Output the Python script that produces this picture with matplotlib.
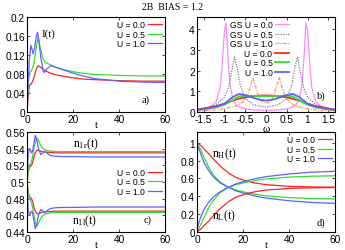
import matplotlib
matplotlib.use("Agg")
import matplotlib.pyplot as plt
from matplotlib.ticker import FormatStrFormatter

plt.rcParams['font.family'] = ['Liberation Sans', 'DejaVu Sans']
plt.rcParams['axes.unicode_minus'] = False
plt.rcParams['mathtext.fontset'] = 'custom'
plt.rcParams['mathtext.rm'] = 'Liberation Serif'
plt.rcParams['mathtext.it'] = 'Liberation Serif'

SERIF = ['Liberation Serif', 'DejaVu Serif']

labels = ["U = 0.0", "U = 0.5", "U = 1.0"]
gs_labels = ["GS U = 0.0", "GS U = 0.5", "GS U = 1.0"]
colors = ["#ff2020", "#30e030", "#6060ff"]
gs_colors = ["#ff88ff", "#808080", "#ff9955"]

# a) current I(t)
t_a_red = [0, 0.5, 1, 2, 3, 4, 4.8, 6, 7, 8, 10, 12, 15, 20, 25, 30, 40, 50, 60]
I_red = [0, 0.03, 0.055, 0.06, 0.072, 0.09, 0.0975, 0.094, 0.09, 0.087, 0.082, 0.079, 0.076, 0.072, 0.069, 0.068, 0.066, 0.065, 0.065]
t_a_green = [0, 0.5, 1, 2, 3, 4, 4.8, 6, 7, 8, 9.5, 12, 15, 20, 25, 30, 40, 50, 60]
I_green = [0, 0.06, 0.08, 0.088, 0.1, 0.135, 0.157, 0.13, 0.112, 0.104, 0.101, 0.095, 0.09, 0.085, 0.081, 0.079, 0.077, 0.076, 0.076]
t_a_blue = [0, 0.5, 1, 1.7, 2.2, 2.7, 3.3, 4, 4.6, 5.2, 6, 7, 7.5, 8.5, 10.3, 12, 15, 20, 25, 30, 40, 50, 60]
I_blue = [0, 0.06, 0.11, 0.14, 0.132, 0.122, 0.135, 0.158, 0.168, 0.15, 0.115, 0.087, 0.083, 0.09, 0.0975, 0.095, 0.09, 0.082, 0.075, 0.07, 0.065, 0.063, 0.062]

# b) spectral functions
w_gs0 = [-1.66, -1.5, -1.3, -1.2, -1.1, -1.05, -1.0, -0.96, -0.92, -0.87, -0.8, -0.7, -0.5, -0.3, 0.0,
         0.3, 0.5, 0.7, 0.8, 0.87, 0.92, 0.96, 1.0, 1.05, 1.1, 1.2, 1.3, 1.5, 1.66]
A_gs0 = [0.1, 0.15, 0.3, 0.5, 1.2, 2.4, 3.9, 4.3, 2.8, 1.4, 0.6, 0.3, 0.15, 0.1, 0.08,
         0.1, 0.15, 0.3, 0.6, 1.4, 2.8, 4.3, 3.9, 2.4, 1.2, 0.5, 0.3, 0.15, 0.1]
w_gs5 = [-1.66, -1.4, -1.2, -1.0, -0.9, -0.82, -0.76, -0.7, -0.62, -0.5, -0.3, 0.0,
         0.3, 0.5, 0.62, 0.7, 0.76, 0.82, 0.9, 1.0, 1.2, 1.4, 1.66]
A_gs5 = [0.1, 0.2, 0.35, 0.7, 1.2, 2.0, 2.65, 2.2, 1.3, 0.65, 0.35, 0.24,
         0.35, 0.65, 1.3, 2.2, 2.65, 2.0, 1.2, 0.7, 0.35, 0.2, 0.1]
w_gs10 = [-1.66, -1.2, -0.9, -0.7, -0.55, -0.45, -0.38, -0.32, -0.26, -0.18, -0.1, 0.0,
          0.1, 0.18, 0.26, 0.32, 0.38, 0.45, 0.55, 0.7, 0.9, 1.2, 1.66]
A_gs10 = [0.05, 0.1, 0.2, 0.3, 0.5, 0.8, 1.2, 1.67, 1.3, 0.75, 0.5, 0.42,
          0.5, 0.75, 1.3, 1.67, 1.2, 0.8, 0.5, 0.3, 0.2, 0.1, 0.05]
w_u = [-1.66, -1.5, -1.2, -1.0, -0.8, -0.65, -0.5, -0.3, -0.15, 0.0, 0.15, 0.3, 0.5, 0.65, 0.8, 1.0, 1.2, 1.5, 1.66]
A_u0 = [0.13, 0.17, 0.28, 0.4, 0.55, 0.64, 0.71, 0.76, 0.79, 0.8, 0.79, 0.76, 0.71, 0.64, 0.55, 0.4, 0.28, 0.17, 0.13]
A_u5 = [0.1, 0.13, 0.22, 0.35, 0.57, 0.75, 0.79, 0.78, 0.77, 0.77, 0.77, 0.78, 0.79, 0.75, 0.57, 0.35, 0.22, 0.13, 0.1]
A_u10 = [0.1, 0.15, 0.25, 0.4, 0.72, 0.87, 0.82, 0.68, 0.59, 0.55, 0.59, 0.68, 0.82, 0.87, 0.72, 0.4, 0.25, 0.15, 0.1]

# c) occupations n_1r / n_1l
t_c = [0, 0.5, 1, 1.5, 2, 2.5, 3, 3.6, 4.3, 5, 6, 7, 7.5, 8.5, 10, 12, 15, 20, 30, 40, 50, 60]
n1r_red = [0.5, 0.512, 0.517, 0.519, 0.52, 0.524, 0.53, 0.535, 0.538, 0.538, 0.537, 0.536, 0.536, 0.5358, 0.5355, 0.535, 0.535, 0.535, 0.535, 0.535, 0.535, 0.535]
n1r_green = [0.5, 0.512, 0.52, 0.522, 0.525, 0.532, 0.54, 0.548, 0.553, 0.55, 0.543, 0.54, 0.539, 0.538, 0.537, 0.5367, 0.5365, 0.5365, 0.5365, 0.5365, 0.5365, 0.5365]
n1r_blue = [0.5, 0.532, 0.54, 0.538, 0.535, 0.538, 0.546, 0.556, 0.55, 0.54, 0.533, 0.535, 0.537, 0.535, 0.532, 0.531, 0.5305, 0.5305, 0.530, 0.530, 0.530, 0.530]
n1l_red = [0.5, 0.488, 0.483, 0.481, 0.48, 0.476, 0.47, 0.465, 0.462, 0.462, 0.463, 0.464, 0.464, 0.4642, 0.4645, 0.465, 0.465, 0.465, 0.465, 0.465, 0.465, 0.465]
n1l_green = [0.5, 0.488, 0.48, 0.478, 0.475, 0.468, 0.46, 0.452, 0.447, 0.45, 0.457, 0.46, 0.461, 0.462, 0.463, 0.4633, 0.4635, 0.4635, 0.4635, 0.4635, 0.4635, 0.4635]
n1l_blue = [0.5, 0.468, 0.46, 0.462, 0.465, 0.462, 0.454, 0.444, 0.45, 0.46, 0.467, 0.465, 0.463, 0.465, 0.468, 0.469, 0.4695, 0.4695, 0.470, 0.470, 0.470, 0.470]

# d) occupations n_H / n_L
t_d = [0, 1, 2, 3, 5, 7, 10, 13.7, 17, 21, 25, 30, 40, 50, 60]
nH_red = [1.0, 0.98, 0.96, 0.93, 0.88, 0.82, 0.74, 0.66, 0.61, 0.575, 0.55, 0.53, 0.512, 0.505, 0.502]
nL_red = [0.0, 0.02, 0.04, 0.07, 0.12, 0.18, 0.26, 0.34, 0.39, 0.425, 0.45, 0.47, 0.488, 0.495, 0.498]
nH_green = [0.98, 0.95, 0.9, 0.84, 0.73, 0.64, 0.56, 0.5, 0.47, 0.445, 0.425, 0.405, 0.385, 0.375, 0.37]
nL_green = [0.01, 0.05, 0.1, 0.16, 0.27, 0.35, 0.44, 0.5, 0.53, 0.555, 0.575, 0.595, 0.615, 0.625, 0.63]
nH_blue = [0.97, 0.92, 0.85, 0.78, 0.69, 0.62, 0.55, 0.5, 0.46, 0.43, 0.405, 0.38, 0.35, 0.33, 0.32]
nL_blue = [0.03, 0.12, 0.19, 0.25, 0.33, 0.39, 0.45, 0.5, 0.54, 0.57, 0.595, 0.62, 0.65, 0.67, 0.68]

W, H = 345, 251
fig = plt.figure(figsize=(W / 100, H / 100), dpi=100)


def box(x0, y0, x1, y1):
    return [x0 / W, 1 - y1 / H, (x1 - x0) / W, (y1 - y0) / H]


ax_a = fig.add_axes(box(27, 18, 165, 113))
ax_b = fig.add_axes(box(197, 18, 335, 113))
ax_c = fig.add_axes(box(27, 133, 165, 233))
ax_d = fig.add_axes(box(197, 133, 335, 233))

lw = 0.9
tick_fs = 7.3
leg_kw = dict(frameon=False, markerfirst=False, fontsize=6.2, handlelength=1.6,
              handletextpad=0.3, labelspacing=0.05, borderpad=0.1, borderaxespad=0.3)

for ax in (ax_a, ax_b, ax_c, ax_d):
    ax.set_facecolor('none')
    ax.tick_params(direction='in', length=2.5, width=0.5, labelsize=tick_fs, pad=1.5,
                   top=True, right=True)
    for s in ax.spines.values():
        s.set_linewidth(0.8)
    ax.xaxis.set_major_formatter(FormatStrFormatter('%g'))
    ax.yaxis.set_major_formatter(FormatStrFormatter('%g'))

# a)
ax_a.plot(t_a_red, I_red, color=colors[0], lw=lw, label=labels[0])
ax_a.plot(t_a_green, I_green, color=colors[1], lw=lw, label=labels[1])
ax_a.plot(t_a_blue, I_blue, color=colors[2], lw=lw, label=labels[2])
ax_a.set_xlim(0, 60)
ax_a.set_ylim(0, 0.2)
ax_a.set_xticks([0, 20, 40, 60])
ax_a.set_yticks([0, 0.04, 0.08, 0.12, 0.16, 0.2])
ax_a.set_xlabel('t', family=SERIF, fontsize=8, labelpad=-3)
ax_a.text(6.5, 0.165, 'I(t)', family=SERIF, fontsize=8, va='center')
ax_a.text(50, 0.026, 'a)', family=SERIF, fontsize=7.5, va='center')
ax_a.legend(loc='upper right', **leg_kw)

# b)
ax_b.plot(w_gs0, A_gs0, color=gs_colors[0], lw=lw, label=gs_labels[0])
ax_b.plot(w_gs5, A_gs5, color=gs_colors[1], lw=lw, ls=(0, (1, 1)), label=gs_labels[1])
ax_b.plot(w_gs10, A_gs10, color=gs_colors[2], lw=lw, ls=(0, (3, 1, 1, 1)), label=gs_labels[2])
ax_b.plot(w_u, A_u0, color=colors[0], lw=1.3, label=labels[0])
ax_b.plot(w_u, A_u5, color=colors[1], lw=1.3, label=labels[1])
ax_b.plot(w_u, A_u10, color=colors[2], lw=1.3, label=labels[2])
ax_b.set_xlim(-1.66, 1.66)
ax_b.set_ylim(0, 4.58)
ax_b.set_xticks([-1.5, -1, -0.5, 0, 0.5, 1, 1.5])
ax_b.set_yticks([0, 1, 2, 3, 4])
ax_b.set_xlabel(r'$\omega$', family=SERIF, fontsize=8, labelpad=-0.5)
ax_b.text(1.22, 0.8, 'b)', family=SERIF, fontsize=7.5, va='center')
ax_b.legend(loc='upper right', bbox_to_anchor=(0.69, 1.0), **leg_kw)

# c)
ax_c.plot(t_c, n1r_red, color=colors[0], lw=lw, label=labels[0])
ax_c.plot(t_c, n1r_green, color=colors[1], lw=lw, label=labels[1])
ax_c.plot(t_c, n1r_blue, color=colors[2], lw=lw, label=labels[2])
ax_c.plot(t_c, n1l_red, color=colors[0], lw=lw)
ax_c.plot(t_c, n1l_green, color=colors[1], lw=lw)
ax_c.plot(t_c, n1l_blue, color=colors[2], lw=lw)
ax_c.set_xlim(0, 60)
ax_c.set_ylim(0.44, 0.56)
ax_c.set_xticks([0, 20, 40, 60])
ax_c.set_yticks([0.44, 0.46, 0.48, 0.5, 0.52, 0.54, 0.56])
ax_c.set_xlabel('t', family=SERIF, fontsize=8, labelpad=-3)
ax_c.text(20, 0.547, r'$\mathregular{n_{1r}(t)}$', family=SERIF, fontsize=8.5, va='center')
ax_c.text(19.5, 0.454, r'$\mathregular{n_{1l}(t)}$', family=SERIF, fontsize=8.5, va='center')
ax_c.text(50.5, 0.455, 'c)', family=SERIF, fontsize=7.5, va='center')
ax_c.legend(loc='center right', bbox_to_anchor=(1.0, 0.5), **leg_kw)

# d)
ax_d.plot(t_d, nH_red, color=colors[0], lw=lw, label=labels[0])
ax_d.plot(t_d, nH_green, color=colors[1], lw=lw, label=labels[1])
ax_d.plot(t_d, nH_blue, color=colors[2], lw=lw, label=labels[2])
ax_d.plot(t_d, nL_red, color=colors[0], lw=lw)
ax_d.plot(t_d, nL_green, color=colors[1], lw=lw)
ax_d.plot(t_d, nL_blue, color=colors[2], lw=lw)
ax_d.set_xlim(0, 60)
ax_d.set_ylim(0, 1.12)
ax_d.set_xticks([0, 20, 40, 60])
ax_d.set_yticks([0, 0.2, 0.4, 0.6, 0.8, 1])
ax_d.set_xlabel('t', family=SERIF, fontsize=8, labelpad=-3)
ax_d.text(6.5, 0.88, r'$\mathregular{n_H(t)}$', family=SERIF, fontsize=8.5, va='center')
ax_d.text(6.5, 0.19, r'$\mathregular{n_L(t)}$', family=SERIF, fontsize=8.5, va='center')
ax_d.text(52, 0.11, 'd)', family=SERIF, fontsize=7.5, va='center')
ax_d.legend(loc='upper right', **leg_kw)

fig.text(0.5, 1 - 7 / H, '2B  BIAS = 1.2', family=SERIF, fontsize=7, ha='center', va='center')

fig.savefig('out.png', dpi=100)
